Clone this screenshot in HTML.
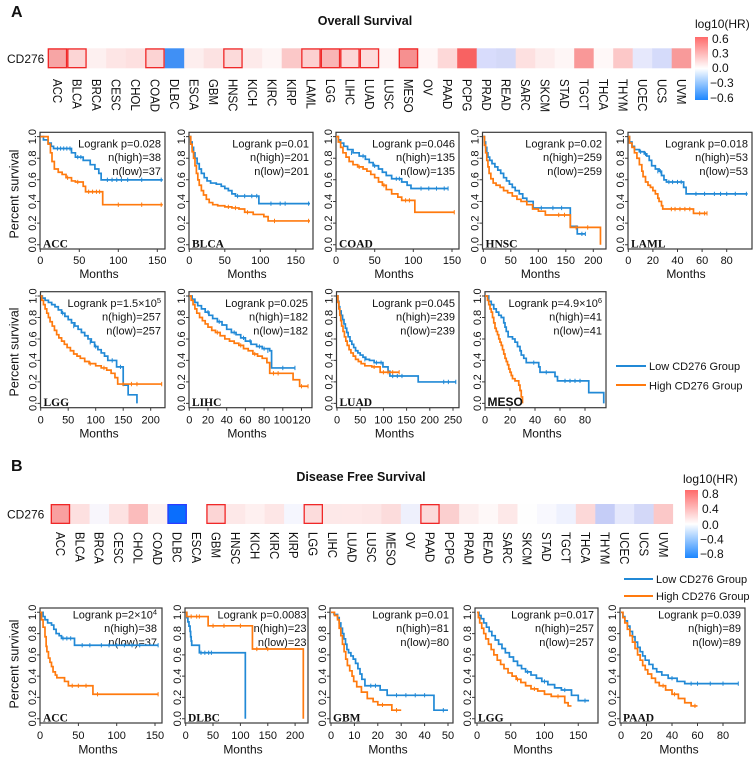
<!DOCTYPE html>
<html><head><meta charset="utf-8"><style>
html,body{margin:0;padding:0;background:#fff}
svg{display:block}
text{font-family:"Liberation Sans",Arial,sans-serif;fill:#111}
.s11{font-size:11px}
.s12{font-size:12px}
.hl{font-size:13px}
.bx{fill:none;stroke:#3a3a3a;stroke-width:1.2}
.tk{fill:none;stroke:#3a3a3a;stroke-width:1}
.cb{fill:none;stroke:#2189d6;stroke-width:1.7;vector-effect:non-scaling-stroke}
.co{fill:none;stroke:#ff7a0e;stroke-width:1.7;vector-effect:non-scaling-stroke}
.kb{fill:none;stroke:#2189d6;stroke-width:1;vector-effect:non-scaling-stroke}
.ko{fill:none;stroke:#ff7a0e;stroke-width:1;vector-effect:non-scaling-stroke}
.nm{font-family:"Liberation Serif","Times New Roman",serif;font-weight:bold;font-size:11.5px}
.rb{fill:none;stroke:#f02828;stroke-width:1.3}
</style></head><body>
<svg width="756" height="763" viewBox="0 0 756 763" xmlns="http://www.w3.org/2000/svg">
<defs>
<linearGradient id="cg" x1="0" y1="0" x2="0" y2="1">
<stop offset="0" stop-color="#ff6a6a"/><stop offset="0.5" stop-color="#ffffff"/><stop offset="1" stop-color="#1c86ff"/>
</linearGradient>
</defs>
<rect width="756" height="763" fill="#fff"/>

<!-- ============ PANEL A ============ -->
<text x="11" y="17" font-size="16" font-weight="bold">A</text>
<text x="365" y="25" font-size="12.5" font-weight="bold" text-anchor="middle">Overall Survival</text>
<text x="7" y="63" class="s12">CD276</text>

<g>
<rect x="47.7" y="48.3" width="19.8" height="20" fill="#f7a5a5"/>
<rect x="67.2" y="48.3" width="19.8" height="20" fill="#fcd5d5"/>
<rect x="86.7" y="48.3" width="19.8" height="20" fill="#fdf0f0"/>
<rect x="106.2" y="48.3" width="19.8" height="20" fill="#fde5e5"/>
<rect x="125.7" y="48.3" width="19.8" height="20" fill="#fde0e0"/>
<rect x="145.2" y="48.3" width="19.8" height="20" fill="#fcd3d3"/>
<rect x="164.7" y="48.3" width="19.8" height="20" fill="#4090f5"/>
<rect x="184.2" y="48.3" width="19.8" height="20" fill="#fdeeee"/>
<rect x="203.7" y="48.3" width="19.8" height="20" fill="#fce2e2"/>
<rect x="223.2" y="48.3" width="19.8" height="20" fill="#fcdada"/>
<rect x="242.7" y="48.3" width="19.8" height="20" fill="#fdeaea"/>
<rect x="262.2" y="48.3" width="19.8" height="20" fill="#fef5f5"/>
<rect x="281.7" y="48.3" width="19.8" height="20" fill="#fbc8c8"/>
<rect x="301.2" y="48.3" width="19.8" height="20" fill="#fcd0d0"/>
<rect x="320.7" y="48.3" width="19.8" height="20" fill="#f9b5b5"/>
<rect x="340.2" y="48.3" width="19.8" height="20" fill="#fcd7d7"/>
<rect x="359.7" y="48.3" width="19.8" height="20" fill="#fddcdc"/>
<rect x="379.2" y="48.3" width="19.8" height="20" fill="#fef4f4"/>
<rect x="398.7" y="48.3" width="19.8" height="20" fill="#f69090"/>
<rect x="418.2" y="48.3" width="19.8" height="20" fill="#fff6f6"/>
<rect x="437.7" y="48.3" width="19.8" height="20" fill="#fdd8d8"/>
<rect x="457.2" y="48.3" width="19.8" height="20" fill="#f86262"/>
<rect x="476.7" y="48.3" width="19.8" height="20" fill="#d8dcfc"/>
<rect x="496.2" y="48.3" width="19.8" height="20" fill="#d4d9f8"/>
<rect x="515.7" y="48.3" width="19.8" height="20" fill="#fde0e0"/>
<rect x="535.2" y="48.3" width="19.8" height="20" fill="#fdeded"/>
<rect x="554.7" y="48.3" width="19.8" height="20" fill="#fef6f6"/>
<rect x="574.2" y="48.3" width="19.8" height="20" fill="#f99898"/>
<rect x="593.7" y="48.3" width="19.8" height="20" fill="#fff8f8"/>
<rect x="613.2" y="48.3" width="19.8" height="20" fill="#fcc8c8"/>
<rect x="632.7" y="48.3" width="19.8" height="20" fill="#e6e8fc"/>
<rect x="652.2" y="48.3" width="19.8" height="20" fill="#d5dbfa"/>
<rect x="671.7" y="48.3" width="19.5" height="20" fill="#f89a9a"/>
<rect class="rb" x="48.35" y="48.95" width="18.2" height="18.7"/>
<rect class="rb" x="67.85" y="48.95" width="18.2" height="18.7"/>
<rect class="rb" x="145.85" y="48.95" width="18.2" height="18.7"/>
<rect class="rb" x="223.85" y="48.95" width="18.2" height="18.7"/>
<rect class="rb" x="301.85" y="48.95" width="18.2" height="18.7"/>
<rect class="rb" x="321.35" y="48.95" width="18.2" height="18.7"/>
<rect class="rb" x="340.85" y="48.95" width="18.2" height="18.7"/>
<rect class="rb" x="360.35" y="48.95" width="18.2" height="18.7"/>
<rect class="rb" x="399.35" y="48.95" width="18.2" height="18.7"/>
</g>
<g class="hl">
<text transform="translate(52.85,79) rotate(90) scale(0.88,1)">ACC</text>
<text transform="translate(72.35,79) rotate(90) scale(0.88,1)">BLCA</text>
<text transform="translate(91.85,79) rotate(90) scale(0.88,1)">BRCA</text>
<text transform="translate(111.35,79) rotate(90) scale(0.88,1)">CESC</text>
<text transform="translate(130.85,79) rotate(90) scale(0.88,1)">CHOL</text>
<text transform="translate(150.35,79) rotate(90) scale(0.88,1)">COAD</text>
<text transform="translate(169.85,79) rotate(90) scale(0.88,1)">DLBC</text>
<text transform="translate(189.35,79) rotate(90) scale(0.88,1)">ESCA</text>
<text transform="translate(208.85,79) rotate(90) scale(0.88,1)">GBM</text>
<text transform="translate(228.35,79) rotate(90) scale(0.88,1)">HNSC</text>
<text transform="translate(247.85,79) rotate(90) scale(0.88,1)">KICH</text>
<text transform="translate(267.35,79) rotate(90) scale(0.88,1)">KIRC</text>
<text transform="translate(286.85,79) rotate(90) scale(0.88,1)">KIRP</text>
<text transform="translate(306.35,79) rotate(90) scale(0.88,1)">LAML</text>
<text transform="translate(325.85,79) rotate(90) scale(0.88,1)">LGG</text>
<text transform="translate(345.35,79) rotate(90) scale(0.88,1)">LIHC</text>
<text transform="translate(364.85,79) rotate(90) scale(0.88,1)">LUAD</text>
<text transform="translate(384.35,79) rotate(90) scale(0.88,1)">LUSC</text>
<text transform="translate(403.85,79) rotate(90) scale(0.88,1)">MESO</text>
<text transform="translate(423.35,79) rotate(90) scale(0.88,1)">OV</text>
<text transform="translate(442.85,79) rotate(90) scale(0.88,1)">PAAD</text>
<text transform="translate(462.35,79) rotate(90) scale(0.88,1)">PCPG</text>
<text transform="translate(481.85,79) rotate(90) scale(0.88,1)">PRAD</text>
<text transform="translate(501.35,79) rotate(90) scale(0.88,1)">READ</text>
<text transform="translate(520.85,79) rotate(90) scale(0.88,1)">SARC</text>
<text transform="translate(540.35,79) rotate(90) scale(0.88,1)">SKCM</text>
<text transform="translate(559.85,79) rotate(90) scale(0.88,1)">STAD</text>
<text transform="translate(579.35,79) rotate(90) scale(0.88,1)">TGCT</text>
<text transform="translate(598.85,79) rotate(90) scale(0.88,1)">THCA</text>
<text transform="translate(618.35,79) rotate(90) scale(0.88,1)">THYM</text>
<text transform="translate(637.85,79) rotate(90) scale(0.88,1)">UCEC</text>
<text transform="translate(657.35,79) rotate(90) scale(0.88,1)">UCS</text>
<text transform="translate(676.85,79) rotate(90) scale(0.88,1)">UVM</text>
</g>
<!-- colorbar A -->
<text x="695" y="28" class="s12">log10(HR)</text>
<rect x="695" y="37" width="13" height="63" fill="url(#cg)"/>
<g class="s12">
<text x="712" y="43">0.6</text>
<text x="712" y="57.5">0.3</text>
<text x="712" y="72">0.0</text>
<text x="710" y="87">−0.3</text>
<text x="710" y="102">−0.6</text>
</g>

<!-- Row 1 -->
<text transform="translate(18.3,194) rotate(-90)" font-size="12.5" text-anchor="middle">Percent survival</text>

<!-- ACC row1 -->
<g transform="translate(40,132.3)">
<rect class="bx" width="125" height="116.7"/>
<path class="tk" d="M0,4.3h-3M0,25.9h-3M0,47.5h-3M0,69.2h-3M0,90.8h-3M0,112.4h-3M0.3,116.7v3M39.3,116.7v3M78.3,116.7v3M117.3,116.7v3"/>
<g class="s11" text-anchor="middle">
<text transform="translate(-4,112.4) rotate(-90)">0.0</text><text transform="translate(-4,90.8) rotate(-90)">0.2</text><text transform="translate(-4,69.2) rotate(-90)">0.4</text><text transform="translate(-4,47.5) rotate(-90)">0.6</text><text transform="translate(-4,25.9) rotate(-90)">0.8</text><text transform="translate(-4,4.3) rotate(-90)">1.0</text>
<text x="0.3" y="131.7">0</text><text x="39.3" y="131.7">50</text><text x="78.3" y="131.7">100</text><text x="117.3" y="131.7">150</text>
</g>
<text x="59" y="145.5" class="s12" text-anchor="middle">Months</text>
<g class="s11" text-anchor="end"><text x="121" y="15.2">Logrank p=0.028</text><text x="121" y="28.9">n(high)=38</text><text x="121" y="42.5">n(low)=37</text></g>
<text x="3" y="115.2" class="nm">ACC</text>
<g transform="translate(0.3,112.4) scale(0.78,-1.081)">
<path class="cb" d="M0,100H4V97H10V94H14V91H17V89H40V85H45V81H55V78H64V74H70V70H75V66H78V60H157"/>
<path class="kb" d="M22,87v4M26,87v4M30,87v4M34,87v4M38,87v4M48,79v4M52,79v4M86,58v4M92,58v4M98,58v4M104,58v4M112,58v4M130,58v4M155,58v4"/>
<path class="co" d="M0,100H10V93H13V85H15V77H18V70H23V67H28V65H33V62H40V59H45V58H55V54H58V49H80V37H157"/>
<path class="ko" d="M35,60v4M48,56v4M62,47v4M67,47v4M72,47v4M76,47v4M100,35v4M130,35v4M155,35v4"/>
</g>
</g>

<!-- BLCA -->
<g transform="translate(189,132.3)">
<rect class="bx" width="124" height="116.7"/>
<path class="tk" d="M0,4.3h-3M0,25.9h-3M0,47.5h-3M0,69.2h-3M0,90.8h-3M0,112.4h-3M0.3,116.7v3M35.8,116.7v3M71.3,116.7v3M106.8,116.7v3"/>
<g class="s11" text-anchor="middle">
<text transform="translate(-4,112.4) rotate(-90)">0.0</text><text transform="translate(-4,90.8) rotate(-90)">0.2</text><text transform="translate(-4,69.2) rotate(-90)">0.4</text><text transform="translate(-4,47.5) rotate(-90)">0.6</text><text transform="translate(-4,25.9) rotate(-90)">0.8</text><text transform="translate(-4,4.3) rotate(-90)">1.0</text>
<text x="0.3" y="131.7">0</text><text x="35.8" y="131.7">50</text><text x="71.3" y="131.7">100</text><text x="106.8" y="131.7">150</text>
</g>
<text x="58" y="145.5" class="s12" text-anchor="middle">Months</text>
<g class="s11" text-anchor="end"><text x="120" y="15.2">Logrank p=0.01</text><text x="120" y="28.9">n(high)=201</text><text x="120" y="42.5">n(low)=201</text></g>
<text x="3" y="115.2" class="nm">BLCA</text>
<g transform="translate(0.3,112.4) scale(0.71,-1.081)">
<path class="cb" d="M0,100H2V95H4V90H6V85H8V80H11V75H14V70H17V66H21V62H25V59H30V57H38V56H45V54H50V52H55V50H60V47H65V45H98V38H170"/>
<path class="kb" d="M68,43v4M78,43v4M88,43v4M95,43v4M115,36v4M128,36v4M135,36v4M168,36v4"/>
<path class="co" d="M0,100H2V93H4V86H6V80H8V73H10V66H12V60H14V55H17V50H20V46H24V42H28V39H33V37H40V36H50V35H60V34H70V33H78V30H90V28H105V26H111V22H170"/>
<path class="ko" d="M55,33v4M65,32v4M82,28v4M120,20v4M168,20v4"/>
</g>
</g>

<!-- COAD -->
<g transform="translate(336,132.3)">
<rect class="bx" width="123" height="116.7"/>
<path class="tk" d="M0,4.3h-3M0,25.9h-3M0,47.5h-3M0,69.2h-3M0,90.8h-3M0,112.4h-3M0,116.7v3M38.7,116.7v3M77.3,116.7v3M116,116.7v3"/>
<g class="s11" text-anchor="middle">
<text transform="translate(-4,112.4) rotate(-90)">0.0</text><text transform="translate(-4,90.8) rotate(-90)">0.2</text><text transform="translate(-4,69.2) rotate(-90)">0.4</text><text transform="translate(-4,47.5) rotate(-90)">0.6</text><text transform="translate(-4,25.9) rotate(-90)">0.8</text><text transform="translate(-4,4.3) rotate(-90)">1.0</text>
<text x="0" y="131.7">0</text><text x="38.7" y="131.7">50</text><text x="77.3" y="131.7">100</text><text x="116" y="131.7">150</text>
</g>
<text x="58" y="145.5" class="s12" text-anchor="middle">Months</text>
<g class="s11" text-anchor="end"><text x="119" y="15.2">Logrank p=0.046</text><text x="119" y="28.9">n(high)=135</text><text x="119" y="42.5">n(low)=135</text></g>
<text x="3" y="115.2" class="nm">COAD</text>
<g transform="translate(0,112.4) scale(0.773,-1.081)">
<path class="cb" d="M0,100H3V97H6V94H10V91H15V88H22V85H30V82H38V79H43V76H48V73H55V70H60V67H65V64H72V61H85V58H92V55H97V52H145"/>
<path class="kb" d="M20,83v4M35,80v4M50,71v4M78,59v4M82,59v4M110,50v4M120,50v4M130,50v4M140,50v4M145,50v4"/>
<path class="co" d="M0,100H3V95H6V90H9V85H13V81H17V77H22V74H28V72H35V70H40V68H45V65H50V62H55V58H60V55H65V51H72V47H80V44H85V41H102V30H153"/>
<path class="ko" d="M30,70v4M62,53v4M90,39v4M95,39v4M153,28v4"/>
</g>
</g>

<!-- HNSC -->
<g transform="translate(482.5,132.3)">
<rect class="bx" width="123.5" height="116.7"/>
<path class="tk" d="M0,4.3h-3M0,25.9h-3M0,47.5h-3M0,69.2h-3M0,90.8h-3M0,112.4h-3M0.8,116.7v3M28.3,116.7v3M55.8,116.7v3M83.3,116.7v3M110.8,116.7v3"/>
<g class="s11" text-anchor="middle">
<text transform="translate(-4,112.4) rotate(-90)">0.0</text><text transform="translate(-4,90.8) rotate(-90)">0.2</text><text transform="translate(-4,69.2) rotate(-90)">0.4</text><text transform="translate(-4,47.5) rotate(-90)">0.6</text><text transform="translate(-4,25.9) rotate(-90)">0.8</text><text transform="translate(-4,4.3) rotate(-90)">1.0</text>
<text x="0.8" y="131.7">0</text><text x="28.3" y="131.7">50</text><text x="55.8" y="131.7">100</text><text x="83.3" y="131.7">150</text><text x="110.8" y="131.7">200</text>
</g>
<text x="58" y="145.5" class="s12" text-anchor="middle">Months</text>
<g class="s11" text-anchor="end"><text x="119.5" y="15.2">Logrank p=0.02</text><text x="119.5" y="28.9">n(high)=259</text><text x="119.5" y="42.5">n(low)=259</text></g>
<text x="3" y="115.2" class="nm">HNSC</text>
<g transform="translate(0.8,112.4) scale(0.58,-1.081)">
<path class="cb" d="M0,100H2V95H4V90H6V85H8V81H11V78H15V75H20V72H25V69H30V66H35V62H40V59H45V56H50V53H55V50H62V47H68V43H75V40H86V34H150V17H162V10H176"/>
<path class="kb" d="M100,32v4M120,32v4M135,32v4M170,8v4M176,8v4"/>
<path class="co" d="M0,100H2V92H4V85H6V78H8V72H10V66H13V61H17V57H22V55H29V53H35V50H42V48H50V45H58V42H65V40H75V37H85V33H95V31H107V27.5H150V16H202V0"/>
<path class="ko" d="M130,25.5v4M140,25.5v4M160,14v4M180,14v4"/>
</g>
</g>

<!-- LAML -->
<g transform="translate(628,132.3)">
<rect class="bx" width="124" height="116.7"/>
<path class="tk" d="M0,4.3h-3M0,25.9h-3M0,47.5h-3M0,69.2h-3M0,90.8h-3M0,112.4h-3M0.3,116.7v3M24.9,116.7v3M49.5,116.7v3M74.1,116.7v3M98.7,116.7v3"/>
<g class="s11" text-anchor="middle">
<text transform="translate(-4,112.4) rotate(-90)">0.0</text><text transform="translate(-4,90.8) rotate(-90)">0.2</text><text transform="translate(-4,69.2) rotate(-90)">0.4</text><text transform="translate(-4,47.5) rotate(-90)">0.6</text><text transform="translate(-4,25.9) rotate(-90)">0.8</text><text transform="translate(-4,4.3) rotate(-90)">1.0</text>
<text x="0.3" y="131.7">0</text><text x="24.9" y="131.7">20</text><text x="49.5" y="131.7">40</text><text x="74.1" y="131.7">60</text><text x="98.7" y="131.7">80</text>
</g>
<text x="58" y="145.5" class="s12" text-anchor="middle">Months</text>
<g class="s11" text-anchor="end"><text x="120" y="15.2">Logrank p=0.018</text><text x="120" y="28.9">n(high)=53</text><text x="120" y="42.5">n(low)=53</text></g>
<text x="3" y="115.2" class="nm">LAML</text>
<g transform="translate(0.3,112.4) scale(1.23,-1.081)">
<path class="cb" d="M0,100H1V95H3V91H5V88H9V86H13V84H15V82H17V78H19V73H22V70H25V68H27V64H29V60H31V58H45V53H47V47H97"/>
<path class="kb" d="M10,84v4M14,82v4M24,66v4M26,66v4M33,56v4M36,56v4M40,56v4M43,56v4M55,45v4M62,45v4M70,45v4M75,45v4M80,45v4M87,45v4M96,45v4"/>
<path class="co" d="M0,100H1V94H3V90H5V85H7V80H9V74H11V68H12V63H14V58H16V55H18V53H20V50H22V47H24V43H25V40H27V36H28V33H53V29H64"/>
<path class="ko" d="M35,31v4M38,31v4M42,31v4M46,31v4M50,31v4M58,27v4M62,27v4M64,27v4"/>
</g>
</g>

<!-- Row 2 -->
<text transform="translate(18.3,352) rotate(-90)" font-size="12.5" text-anchor="middle">Percent survival</text>

<!-- LGG row2 -->
<g transform="translate(40.5,291.7)">
<rect class="bx" width="124.5" height="116"/>
<path class="tk" d="M0,4.3h-3M0,25.8h-3M0,47.3h-3M0,68.7h-3M0,90.2h-3M0,111.7h-3M0.2,116v3M27.7,116v3M55.2,116v3M82.7,116v3M110.2,116v3"/>
<g class="s11" text-anchor="middle">
<text transform="translate(-4,111.7) rotate(-90)">0.0</text><text transform="translate(-4,90.2) rotate(-90)">0.2</text><text transform="translate(-4,68.7) rotate(-90)">0.4</text><text transform="translate(-4,47.3) rotate(-90)">0.6</text><text transform="translate(-4,25.8) rotate(-90)">0.8</text><text transform="translate(-4,4.3) rotate(-90)">1.0</text>
<text x="0.2" y="131.8">0</text><text x="27.7" y="131.8">50</text><text x="55.2" y="131.8">100</text><text x="82.7" y="131.8">150</text><text x="110.2" y="131.8">200</text>
</g>
<text x="58.5" y="145.8" class="s12" text-anchor="middle">Months</text>
<g class="s11" text-anchor="end"><text x="120.5" y="15.3">Logrank p=1.5×10<tspan font-size="7.5" dy="-4">5</tspan></text><text x="120.5" y="29">n(high)=257</text><text x="120.5" y="42.7">n(low)=257</text></g>
<text x="3" y="114.5" class="nm">LGG</text>
<g transform="translate(0.2,111.7) scale(0.55,-1.074)">
<path class="cb" d="M0,100H3V98H8V96H14V94H20V92H26V90H32V87H38V84H44V81H50V78H56V75H62V72H68V69H74V66H80V63H86V60H92V57H98V53H104V50H110V47H116V44H122V40H138V34H150V17H159V8H175V0"/>
<path class="kb" d="M40,82v4M60,70v4M90,55v4M100,51v4M130,38v4M145,32v4"/>
<path class="co" d="M0,100H2V96H5V92H8V88H11V84H14V80H17V76H21V72H25V68H29V64H33V61H38V58H43V55H48V52H54V49H60V46H66V44H72V42H80V39H88V37H100V35H110V33H120V31H128V28H135V24H140V18H220"/>
<path class="ko" d="M90,35v4M115,31v4M150,16v4M165,16v4M175,16v4M220,16v4"/>
</g>
</g>

<!-- LIHC -->
<g transform="translate(189,291.7)">
<rect class="bx" width="123" height="116"/>
<path class="tk" d="M0,4.3h-3M0,25.8h-3M0,47.3h-3M0,68.7h-3M0,90.2h-3M0,111.7h-3M0.3,116v3M19,116v3M37.7,116v3M56.4,116v3M75.1,116v3M93.8,116v3M112.5,116v3"/>
<g class="s11" text-anchor="middle">
<text transform="translate(-4,111.7) rotate(-90)">0.0</text><text transform="translate(-4,90.2) rotate(-90)">0.2</text><text transform="translate(-4,68.7) rotate(-90)">0.4</text><text transform="translate(-4,47.3) rotate(-90)">0.6</text><text transform="translate(-4,25.8) rotate(-90)">0.8</text><text transform="translate(-4,4.3) rotate(-90)">1.0</text>
<text x="0.3" y="131.8">0</text><text x="19" y="131.8">20</text><text x="37.7" y="131.8">40</text><text x="56.4" y="131.8">60</text><text x="75.1" y="131.8">80</text><text x="93.8" y="131.8">100</text><text x="112.5" y="131.8">120</text>
</g>
<text x="58" y="145.8" class="s12" text-anchor="middle">Months</text>
<g class="s11" text-anchor="end"><text x="119" y="15.3">Logrank p=0.025</text><text x="119" y="29">n(high)=182</text><text x="119" y="42.7">n(low)=182</text></g>
<text x="3" y="114.5" class="nm">LIHC</text>
<g transform="translate(0.3,111.7) scale(0.935,-1.074)">
<path class="cb" d="M0,100H3V97H6V94H9V91H13V88H17V85H21V82H25V79H30V76H35V73H40V69H45V66H50V64H55V61H60V58H66V55H72V53H78V51H86V49H88V33H113"/>
<path class="kb" d="M20,83v4M32,74v4M48,64v4M58,59v4M65,56v4M75,51v4M80,49v4M84,47v4M100,31v4M113,31v4"/>
<path class="co" d="M0,100H2V96H4V92H6V88H8V84H11V80H14V77H17V74H20V71H24V68H28V66H33V63H38V60H43V58H48V56H53V54H58V51H63V49H68V46H73V44H78V42H83V38H86V28H111V22H118V16H127"/>
<path class="ko" d="M30,64v4M55,52v4M70,44v4M90,26v4M95,26v4M120,14v4M127,14v4"/>
</g>
</g>

<!-- LUAD -->
<g transform="translate(336.5,291.7)">
<rect class="bx" width="122.5" height="116"/>
<path class="tk" d="M0,4.3h-3M0,25.8h-3M0,47.3h-3M0,68.7h-3M0,90.2h-3M0,111.7h-3M0.5,116v3M23.7,116v3M46.9,116v3M70.1,116v3M93.3,116v3M116.5,116v3"/>
<g class="s11" text-anchor="middle">
<text transform="translate(-4,111.7) rotate(-90)">0.0</text><text transform="translate(-4,90.2) rotate(-90)">0.2</text><text transform="translate(-4,68.7) rotate(-90)">0.4</text><text transform="translate(-4,47.3) rotate(-90)">0.6</text><text transform="translate(-4,25.8) rotate(-90)">0.8</text><text transform="translate(-4,4.3) rotate(-90)">1.0</text>
<text x="0.5" y="131.8">0</text><text x="23.7" y="131.8">50</text><text x="46.9" y="131.8">100</text><text x="70.1" y="131.8">150</text><text x="93.3" y="131.8">200</text><text x="116.5" y="131.8">250</text>
</g>
<text x="58" y="145.8" class="s12" text-anchor="middle">Months</text>
<g class="s11" text-anchor="end"><text x="118.5" y="15.3">Logrank p=0.045</text><text x="118.5" y="29">n(high)=239</text><text x="118.5" y="42.7">n(low)=239</text></g>
<text x="3" y="114.5" class="nm">LUAD</text>
<g transform="translate(0.5,111.7) scale(0.464,-1.074)">
<path class="cb" d="M0,100H2V95H4V90H6V86H9V82H12V78H15V74H18V70H21V66H24V62H28V58H32V55H36V52H40V49H45V47H50V45H56V43H62V41H70V40H80V38H99V34H110V30H114V25.5H175V20H256"/>
<path class="kb" d="M60,39v4M85,36v4M95,36v4M120,23.5v4M130,23.5v4M140,23.5v4M230,18v4M240,18v4M256,18v4"/>
<path class="co" d="M0,100H2V94H4V88H6V82H8V77H10V72H13V67H16V62H19V58H22V54H26V50H30V47H35V44H40V41H46V39H52V37H60V35H75V34H93V29H134"/>
<path class="ko" d="M80,32v4M100,27v4M110,27v4M120,27v4M134,27v4"/>
</g>
</g>

<!-- MESO -->
<g transform="translate(485,291.7)">
<rect class="bx" width="121" height="116"/>
<path class="tk" d="M0,4.3h-3M0,25.8h-3M0,47.3h-3M0,68.7h-3M0,90.2h-3M0,111.7h-3M0,116v3M25,116v3M50,116v3M75,116v3M100,116v3"/>
<g class="s11" text-anchor="middle">
<text transform="translate(-4,111.7) rotate(-90)">0.0</text><text transform="translate(-4,90.2) rotate(-90)">0.2</text><text transform="translate(-4,68.7) rotate(-90)">0.4</text><text transform="translate(-4,47.3) rotate(-90)">0.6</text><text transform="translate(-4,25.8) rotate(-90)">0.8</text><text transform="translate(-4,4.3) rotate(-90)">1.0</text>
<text x="0" y="131.8">0</text><text x="25" y="131.8">20</text><text x="50" y="131.8">40</text><text x="75" y="131.8">60</text><text x="100" y="131.8">80</text>
</g>
<text x="57" y="145.8" class="s12" text-anchor="middle">Months</text>
<g class="s11" text-anchor="end"><text x="117" y="15.3">Logrank p=4.9×10<tspan font-size="7.5" dy="-4">6</tspan></text><text x="117" y="29">n(high)=41</text><text x="117" y="42.7">n(low)=41</text></g>
<g transform="translate(0,111.7) scale(1.25,-1.074)">
<path class="cb" d="M0,100H3V95H5V92H7V88H9V85H11V82H13V80H15V75H16V71H17V67H18.5V62H22V60H24V57H26V53H28V49H29V45H31V42H33V38H43V34H44V29H56V25H58V21H83V10H95V0"/>
<path class="kb" d="M39,36v4M49,27v4M64,19v4M68,19v4M72,19v4M76,19v4"/>
<path class="co" d="M0,100H2V96H3V92H4V88H5V85H6V80H7V75H8V70H9V67H10V64H11V60H12V57H13V54H14V50H15V46H16V42H17V39H18V36H19V32H20V29H21V26H22V23H24V21H27V17H28V12H29V6H30V0"/>
</g>
<text x="2.5" y="114.5" font-size="12" font-weight="bold">MESO</text>
</g>

<!-- Legend A -->
<line x1="616" y1="366" x2="646" y2="366" stroke="#2189d6" stroke-width="2"/>
<text x="649" y="370" class="s11">Low CD276 Group</text>
<line x1="616" y1="385" x2="646" y2="385" stroke="#ff7a0e" stroke-width="2"/>
<text x="649" y="389.5" class="s11">High CD276 Group</text>

<!-- ============ PANEL B ============ -->
<text x="11" y="471" font-size="16" font-weight="bold">B</text>
<text x="361" y="481" font-size="12.5" font-weight="bold" text-anchor="middle">Disease Free Survival</text>
<text x="7" y="518.5" class="s12">CD276</text>

<g>
<rect x="50.7" y="504" width="19.75" height="20" fill="#f9a0a0"/>
<rect x="70.15" y="504" width="19.75" height="20" fill="#fde0e0"/>
<rect x="89.6" y="504" width="19.75" height="20" fill="#f8f6fc"/>
<rect x="109.05" y="504" width="19.75" height="20" fill="#fde2e2"/>
<rect x="128.5" y="504" width="19.75" height="20" fill="#fbbcbc"/>
<rect x="147.95" y="504" width="19.75" height="20" fill="#fdf0f0"/>
<rect x="167.4" y="504" width="19.75" height="20" fill="#0a6efd"/>
<rect x="186.85" y="504" width="19.75" height="20" fill="#ffffff"/>
<rect x="206.3" y="504" width="19.75" height="20" fill="#fcd5d5"/>
<rect x="225.75" y="504" width="19.75" height="20" fill="#fde8e8"/>
<rect x="245.2" y="504" width="19.75" height="20" fill="#fef0f0"/>
<rect x="264.65" y="504" width="19.75" height="20" fill="#fde6e6"/>
<rect x="284.1" y="504" width="19.75" height="20" fill="#f5f6fe"/>
<rect x="303.55" y="504" width="19.75" height="20" fill="#fcdcdc"/>
<rect x="323" y="504" width="19.75" height="20" fill="#fde8e8"/>
<rect x="342.45" y="504" width="19.75" height="20" fill="#fee8e8"/>
<rect x="361.9" y="504" width="19.75" height="20" fill="#fde6e6"/>
<rect x="381.35" y="504" width="19.75" height="20" fill="#fcdcdc"/>
<rect x="400.8" y="504" width="19.75" height="20" fill="#eef0fc"/>
<rect x="420.25" y="504" width="19.75" height="20" fill="#fcdada"/>
<rect x="439.7" y="504" width="19.75" height="20" fill="#fbcfcf"/>
<rect x="459.15" y="504" width="19.75" height="20" fill="#fdeeee"/>
<rect x="478.6" y="504" width="19.75" height="20" fill="#fef8f8"/>
<rect x="498.05" y="504" width="19.75" height="20" fill="#fde8e8"/>
<rect x="517.5" y="504" width="19.75" height="20" fill="#fefefe"/>
<rect x="536.95" y="504" width="19.75" height="20" fill="#f8f8fe"/>
<rect x="556.4" y="504" width="19.75" height="20" fill="#eef1fe"/>
<rect x="575.85" y="504" width="19.75" height="20" fill="#fcd8d8"/>
<rect x="595.3" y="504" width="19.75" height="20" fill="#c5cdf7"/>
<rect x="614.75" y="504" width="19.75" height="20" fill="#e5e8fc"/>
<rect x="634.2" y="504" width="19.75" height="20" fill="#d3d8f8"/>
<rect x="653.65" y="504" width="19.45" height="20" fill="#fbc8c8"/>
<rect class="rb" x="51.35" y="504.65" width="18.15" height="18.7"/>
<rect x="168.05" y="504.65" width="18.15" height="18.7" fill="none" stroke="#2a3cff" stroke-width="1.3"/>
<rect class="rb" x="206.95" y="504.65" width="18.15" height="18.7"/>
<rect class="rb" x="304.2" y="504.65" width="18.15" height="18.7"/>
<rect class="rb" x="420.9" y="504.65" width="18.15" height="18.7"/>
</g>
<g class="hl">
<text transform="translate(55.8,532) rotate(90) scale(0.88,1)">ACC</text>
<text transform="translate(75.25,532) rotate(90) scale(0.88,1)">BLCA</text>
<text transform="translate(94.7,532) rotate(90) scale(0.88,1)">BRCA</text>
<text transform="translate(114.15,532) rotate(90) scale(0.88,1)">CESC</text>
<text transform="translate(133.6,532) rotate(90) scale(0.88,1)">CHOL</text>
<text transform="translate(153.05,532) rotate(90) scale(0.88,1)">COAD</text>
<text transform="translate(172.5,532) rotate(90) scale(0.88,1)">DLBC</text>
<text transform="translate(191.95,532) rotate(90) scale(0.88,1)">ESCA</text>
<text transform="translate(211.4,532) rotate(90) scale(0.88,1)">GBM</text>
<text transform="translate(230.85,532) rotate(90) scale(0.88,1)">HNSC</text>
<text transform="translate(250.3,532) rotate(90) scale(0.88,1)">KICH</text>
<text transform="translate(269.75,532) rotate(90) scale(0.88,1)">KIRC</text>
<text transform="translate(289.2,532) rotate(90) scale(0.88,1)">KIRP</text>
<text transform="translate(308.65,532) rotate(90) scale(0.88,1)">LGG</text>
<text transform="translate(328.1,532) rotate(90) scale(0.88,1)">LIHC</text>
<text transform="translate(347.55,532) rotate(90) scale(0.88,1)">LUAD</text>
<text transform="translate(367,532) rotate(90) scale(0.88,1)">LUSC</text>
<text transform="translate(386.45,532) rotate(90) scale(0.88,1)">MESO</text>
<text transform="translate(405.9,532) rotate(90) scale(0.88,1)">OV</text>
<text transform="translate(425.35,532) rotate(90) scale(0.88,1)">PAAD</text>
<text transform="translate(444.8,532) rotate(90) scale(0.88,1)">PCPG</text>
<text transform="translate(464.25,532) rotate(90) scale(0.88,1)">PRAD</text>
<text transform="translate(483.7,532) rotate(90) scale(0.88,1)">READ</text>
<text transform="translate(503.15,532) rotate(90) scale(0.88,1)">SARC</text>
<text transform="translate(522.6,532) rotate(90) scale(0.88,1)">SKCM</text>
<text transform="translate(542.05,532) rotate(90) scale(0.88,1)">STAD</text>
<text transform="translate(561.5,532) rotate(90) scale(0.88,1)">TGCT</text>
<text transform="translate(580.95,532) rotate(90) scale(0.88,1)">THCA</text>
<text transform="translate(600.4,532) rotate(90) scale(0.88,1)">THYM</text>
<text transform="translate(619.85,532) rotate(90) scale(0.88,1)">UCEC</text>
<text transform="translate(639.3,532) rotate(90) scale(0.88,1)">UCS</text>
<text transform="translate(658.75,532) rotate(90) scale(0.88,1)">UVM</text>
</g>
<!-- colorbar B -->
<text x="683" y="483" class="s12">log10(HR)</text>
<rect x="685" y="490" width="13" height="68" fill="url(#cg)"/>
<g class="s12">
<text x="702" y="498">0.8</text>
<text x="702" y="513">0.4</text>
<text x="702" y="529">0.0</text>
<text x="700" y="543.5">−0.4</text>
<text x="700" y="558">−0.8</text>
</g>

<!-- Legend B -->
<line x1="624" y1="579" x2="653" y2="579" stroke="#2189d6" stroke-width="2"/>
<text x="656" y="583" class="s11">Low CD276 Group</text>
<line x1="624" y1="596" x2="653" y2="596" stroke="#ff7a0e" stroke-width="2"/>
<text x="656" y="600" class="s11">High CD276 Group</text>

<!-- Row 3 -->
<text transform="translate(18.3,664) rotate(-90)" font-size="12.5" text-anchor="middle">Percent survival</text>

<!-- ACC row3 -->
<g transform="translate(40,608)">
<rect class="bx" width="122" height="115"/>
<path class="tk" d="M0,4.3h-3M0,25.6h-3M0,46.9h-3M0,68.1h-3M0,89.4h-3M0,110.7h-3M0,115v3M38.4,115v3M76.7,115v3M115,115v3"/>
<g class="s11" text-anchor="middle">
<text transform="translate(-4,110.7) rotate(-90)">0.0</text><text transform="translate(-4,89.4) rotate(-90)">0.2</text><text transform="translate(-4,68.1) rotate(-90)">0.4</text><text transform="translate(-4,46.9) rotate(-90)">0.6</text><text transform="translate(-4,25.6) rotate(-90)">0.8</text><text transform="translate(-4,4.3) rotate(-90)">1.0</text>
<text x="0" y="131">0</text><text x="38.4" y="131">50</text><text x="76.7" y="131">100</text><text x="115" y="131">150</text>
</g>
<text x="58" y="145.5" class="s12" text-anchor="middle">Months</text>
<g class="s11" text-anchor="end"><text x="117" y="10.5">Logrank p=2×10<tspan font-size="7.5" dy="-4">4</tspan></text><text x="117" y="24">n(high)=38</text><text x="117" y="38">n(low)=37</text></g>
<text x="3" y="113.5" class="nm">ACC</text>
<g transform="translate(0,110.7) scale(0.767,-1.064)">
<path class="cb" d="M0,100H4V96H6.5V93H10V90H15V88H18V84H21V80H25V78H28V75.5H45V69H154"/>
<path class="kb" d="M30,73.5v4M35,73.5v4M40,73.5v4M55,67v4M65,67v4M80,67v4M90,67v4M100,67v4M110,67v4M120,67v4M130,67v4M154,67v4"/>
<path class="co" d="M0,100H2V93H4V86H6.5V77H8V68H9V63H11V57H13V53H15V49H17V44H20V41H22V38.5H32V35H37V31H69V23H154"/>
<path class="ko" d="M42,29v4M50,29v4M60,29v4M75,21v4M154,21v4"/>
</g>
</g>

<!-- DLBC -->
<g transform="translate(185,608)">
<rect class="bx" width="123" height="115"/>
<path class="tk" d="M0,4.3h-3M0,25.6h-3M0,46.9h-3M0,68.1h-3M0,89.4h-3M0,110.7h-3M0.7,115v3M28,115v3M55.4,115v3M82.8,115v3M110.1,115v3"/>
<g class="s11" text-anchor="middle">
<text transform="translate(-4,110.7) rotate(-90)">0.0</text><text transform="translate(-4,89.4) rotate(-90)">0.2</text><text transform="translate(-4,68.1) rotate(-90)">0.4</text><text transform="translate(-4,46.9) rotate(-90)">0.6</text><text transform="translate(-4,25.6) rotate(-90)">0.8</text><text transform="translate(-4,4.3) rotate(-90)">1.0</text>
<text x="0.7" y="131">0</text><text x="28" y="131">50</text><text x="55.4" y="131">100</text><text x="82.8" y="131">150</text><text x="110.1" y="131">200</text>
</g>
<text x="58" y="145.5" class="s12" text-anchor="middle">Months</text>
<g class="s11" text-anchor="end"><text x="121.5" y="10.5">Logrank p=0.0083</text><text x="121.5" y="24">n(high)=23</text><text x="121.5" y="38">n(low)=23</text></g>
<text x="3" y="113.5" class="nm">DLBC</text>
<g transform="translate(0.7,110.7) scale(0.547,-1.064)">
<path class="cb" d="M0,100H2V95H4V91H6V87H8V82H9V77H10V73H11V69H25V62H109V0"/>
<path class="kb" d="M28,60v4M35,60v4M42,60v4M47,60v4"/>
<path class="co" d="M0,100H2V96H41V87.3H122V65.5H215V0"/>
<path class="ko" d="M10,94v4M20,94v4M25,94v4M50,85.3v4M70,85.3v4M100,85.3v4M130,63.5v4M150,63.5v4"/>
</g>
</g>

<!-- GBM -->
<g transform="translate(330,608)">
<rect class="bx" width="123" height="115"/>
<path class="tk" d="M0,4.3h-3M0,25.6h-3M0,46.9h-3M0,68.1h-3M0,89.4h-3M0,110.7h-3M1,115v3M24.4,115v3M47.8,115v3M71.2,115v3M94.6,115v3M118,115v3"/>
<g class="s11" text-anchor="middle">
<text transform="translate(-4,110.7) rotate(-90)">0.0</text><text transform="translate(-4,89.4) rotate(-90)">0.2</text><text transform="translate(-4,68.1) rotate(-90)">0.4</text><text transform="translate(-4,46.9) rotate(-90)">0.6</text><text transform="translate(-4,25.6) rotate(-90)">0.8</text><text transform="translate(-4,4.3) rotate(-90)">1.0</text>
<text x="1" y="131">0</text><text x="24.4" y="131">10</text><text x="47.8" y="131">20</text><text x="71.2" y="131">30</text><text x="94.6" y="131">40</text><text x="118" y="131">50</text>
</g>
<text x="58" y="145.5" class="s12" text-anchor="middle">Months</text>
<g class="s11" text-anchor="end"><text x="119" y="10.5">Logrank p=0.01</text><text x="119" y="24">n(high)=81</text><text x="119" y="38">n(low)=80</text></g>
<text x="3" y="113.5" class="nm">GBM</text>
<g transform="translate(1,110.7) scale(2.34,-1.064)">
<path class="cb" d="M0,100H1.3V98H2.8V95H3.5V90H4.2V85H4.9V80H5.5V75H6.2V70H6.8V65H7.5V62H8.5V59H9.5V56H10.5V52H11.5V47H12.4V42H13.2V37H14.5V31H21V27H24V22H44V8H50"/>
<path class="kb" d="M17,29v4M19,29v4M28,20v4M32,20v4M36,20v4M40,20v4M48,6v4"/>
<path class="co" d="M0,100H1.5V97H2.8V93H3.5V85H4.2V78H4.9V70H5.6V63H6.3V56H7V50H8V45H9V40H9.7V35H11V30H13V25H15.5V19H18V16H20V13H26V8H30"/>
<path class="ko" d="M22,11v4M28,6v4"/>
</g>
</g>

<!-- LGG row3 -->
<g transform="translate(475,608)">
<rect class="bx" width="123" height="115"/>
<path class="tk" d="M0,4.3h-3M0,25.6h-3M0,46.9h-3M0,68.1h-3M0,89.4h-3M0,110.7h-3M2,115v3M35.75,115v3M69.5,115v3M103.25,115v3"/>
<g class="s11" text-anchor="middle">
<text transform="translate(-4,110.7) rotate(-90)">0.0</text><text transform="translate(-4,89.4) rotate(-90)">0.2</text><text transform="translate(-4,68.1) rotate(-90)">0.4</text><text transform="translate(-4,46.9) rotate(-90)">0.6</text><text transform="translate(-4,25.6) rotate(-90)">0.8</text><text transform="translate(-4,4.3) rotate(-90)">1.0</text>
<text x="2" y="131">0</text><text x="35.75" y="131">50</text><text x="69.5" y="131">100</text><text x="103.25" y="131">150</text>
</g>
<text x="58" y="145.5" class="s12" text-anchor="middle">Months</text>
<g class="s11" text-anchor="end"><text x="119" y="10.5">Logrank p=0.017</text><text x="119" y="24">n(high)=257</text><text x="119" y="38">n(low)=257</text></g>
<text x="3" y="113.5" class="nm">LGG</text>
<g transform="translate(2,110.7) scale(0.675,-1.064)">
<path class="cb" d="M0,100H3V97H6V94H10V90H14V86H18V82H22V78H27V74H32V70H37V66H42V62H48V58H54V54H60V50H66V47H72V44H80V41H88V38H96V35H105V32H115V29H125V27H140V22H150V17H166"/>
<path class="kb" d="M75,42v4M100,33v4M130,25v4M160,15v4"/>
<path class="co" d="M0,100H2V95H4V90H7V85H10V80H13V75H17V70H21V65H25V60H30V55H35V51H40V47H46V43H52V40H58V37H65V34H72V31H80V28H90V26H100V23H110V21H130V15H135V12H140"/>
<path class="ko" d="M60,35v4M85,26v4M120,19v4"/>
</g>
</g>

<!-- PAAD -->
<g transform="translate(620,608)">
<rect class="bx" width="125" height="115"/>
<path class="tk" d="M0,4.3h-3M0,25.6h-3M0,46.9h-3M0,68.1h-3M0,89.4h-3M0,110.7h-3M1,115v3M26.5,115v3M52,115v3M77.5,115v3M103,115v3"/>
<g class="s11" text-anchor="middle">
<text transform="translate(-4,110.7) rotate(-90)">0.0</text><text transform="translate(-4,89.4) rotate(-90)">0.2</text><text transform="translate(-4,68.1) rotate(-90)">0.4</text><text transform="translate(-4,46.9) rotate(-90)">0.6</text><text transform="translate(-4,25.6) rotate(-90)">0.8</text><text transform="translate(-4,4.3) rotate(-90)">1.0</text>
<text x="1" y="131">0</text><text x="26.5" y="131">20</text><text x="52" y="131">40</text><text x="77.5" y="131">60</text><text x="103" y="131">80</text>
</g>
<text x="59" y="145.5" class="s12" text-anchor="middle">Months</text>
<g class="s11" text-anchor="end"><text x="121" y="10.5">Logrank p=0.039</text><text x="121" y="24">n(high)=89</text><text x="121" y="38">n(low)=89</text></g>
<text x="3" y="113.5" class="nm">PAAD</text>
<g transform="translate(1,110.7) scale(1.275,-1.064)">
<path class="cb" d="M0,100H1.5V96H3V92H5V87H7V82H9V77H11V72H13V67H15V63H17V59H19V55H22V51H25V47H28V44H32V41H37V38H44V35H50V33H92"/>
<path class="kb" d="M40,36v4M55,31v4M60,31v4M70,31v4M80,31v4M92,31v4"/>
<path class="co" d="M0,100H1.5V95H3V90H5V84H7V78H9V72H11V66H13V60H15V55H17V50H19V46H21V42H24V38H27V34H30V31H35V27H40V23H45V19H50V15H55V12H60"/>
<path class="ko" d="M33,29v4M42,21v4M58,10v4"/>
</g>
</g>

</svg>
</body></html>
